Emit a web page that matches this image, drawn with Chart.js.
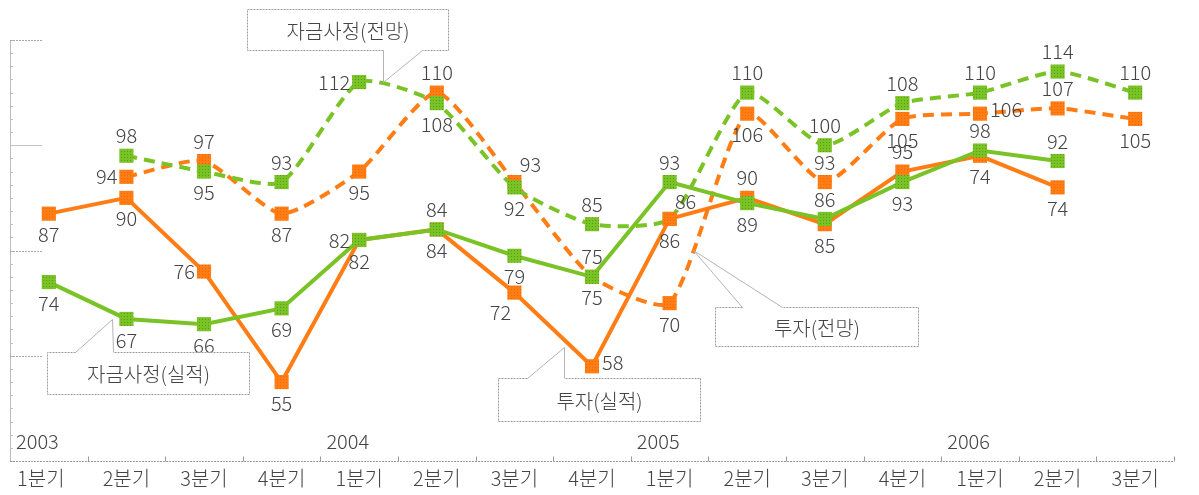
<!DOCTYPE html>
<html>
<head>
<meta charset="utf-8">
<script src="https://cdn.jsdelivr.net/npm/chart.js@4/dist/chart.umd.min.js"></script>
<style>
html, body { margin: 0; padding: 0; background: #fff; }
canvas { display: block; }
</style>
</head>
<body>
<canvas id="chart" width="1199" height="495"></canvas>
<script>
// 분기 / 연도
var quarters = ['1분기', '2분기', '3분기', '4분기', '1분기', '2분기', '3분기', '4분기',
                '1분기', '2분기', '3분기', '4분기', '1분기', '2분기', '3분기'];
var yearLabels = ['2003', '2004', '2005', '2006'];
var yearStart = [0, 4, 8, 12];   // 각 연도가 시작하는 분기 index

// 값
var investActual  = [87, 90, 76, 55, 82, 84, 72, 58, 86, 90, 85, 95, 98, 92, null];
var fundsActual   = [74, 67, 66, 69, 82, 84, 79, 75, 93, 89, 86, 93, 99, 97, null];
var investOutlook = [null, 94, 97, 87, 95, 110, 93, 75, 70, 106, 93, 105, 106, 107, 105];
var fundsOutlook  = [null, 98, 95, 93, 112, 108, 92, 85, 86, 110, 100, 108, 110, 114, 110];

// 그림에 찍힌 숫자 그대로
var investActualText  = ['87', '90', '76', '55', '82', '84', '72', '58', '86', '90', '85', '95', '74', '74', ''];
var fundsActualText   = ['74', '67', '66', '69', '82', '84', '79', '75', '93', '89', '86', '93', '98', '92', ''];
var investOutlookText = ['', '94', '97', '87', '95', '110', '93', '75', '70', '106', '93', '105', '106', '107', '105'];
var fundsOutlookText  = ['', '98', '95', '93', '112', '108', '92', '85', '86', '110', '100', '108', '110', '114', '110'];

// 라벨 위치 a=위 b=아래 l=왼쪽 r=오른쪽
var investActualSide  = ['b', 'b', 'l', 'b', 'b', 'b', 'bl', 'r', 'b', 'a', 'b', 'a', 'b', 'b', ''];
var fundsActualSide   = ['b', 'b', 'b', 'b', 'l', 'a', 'b', 'b', 'a', 'b', 'a', 'b', 'a', 'a', ''];
var investOutlookSide = ['', 'l', 'a', 'b', 'b', 'a', 'ar', 'a', 'b', 'b', 'a', 'b', 'r', 'a', 'b'];
var fundsOutlookSide  = ['', 'a', 'b', 'a', 'l', 'b', 'b', 'a', 'ar', 'a', 'a', 'a', 'a', 'a', 'a'];

var yMin = 40, yMax = 120;
var yMajor = [60, 80, 100, 120];

var orange = '#ff7d14';
var green = '#7ac326';
var labelFont = '300 20px "Noto Sans CJK KR", "Noto Sans", sans-serif';
var textColor = '#444444';

var canvas = document.getElementById('chart');
var ctx = canvas.getContext('2d');

// 점 무늬 채우기
function makePattern(base, dot) {
    var c = document.createElement('canvas');
    c.width = 3; c.height = 3;
    var g = c.getContext('2d');
    g.fillStyle = base;
    g.fillRect(0, 0, 3, 3);
    g.fillStyle = dot;
    g.fillRect(1, 1, 1, 1);
    return ctx.createPattern(c, 'repeat');
}
var orangeFill = makePattern(orange, '#f06a00');
var greenFill = makePattern(green, '#5c9e12');

// 축 그리기
var axisPlugin = {
    id: 'axisPlugin',
    beforeDatasetsDraw: function(chart) {
        var c = chart.ctx, xs = chart.scales.x, ys = chart.scales.y, area = chart.chartArea;
        c.save();
        c.lineWidth = 1;
        // 세로축
        c.strokeStyle = '#bdbdbd';
        c.beginPath();
        c.moveTo(area.left + 0.5, ys.getPixelForValue(yMax));
        c.lineTo(area.left + 0.5, area.bottom);
        c.stroke();
        // 작은 눈금
        for (var v = yMin; v <= yMax; v += 2.5) {
            var py = Math.round(ys.getPixelForValue(v)) + 0.5;
            c.beginPath();
            c.moveTo(area.left, py);
            c.lineTo(area.left + 3, py);
            c.stroke();
        }
        // 큰 눈금
        yMajor.forEach(function(v) {
            var py = Math.round(ys.getPixelForValue(v)) + 0.5;
            c.setLineDash(v === 100 ? [] : [2, 1]);
            c.strokeStyle = v === 100 ? '#c4c4c4' : '#a8a8a8';
            c.beginPath();
            c.moveTo(area.left, py);
            c.lineTo(area.left + 32, py);
            c.stroke();
        });
        // 가로축
        c.setLineDash([2, 1]);
        c.strokeStyle = '#9a9a9a';
        var by = area.bottom + 0.5;
        c.beginPath();
        c.moveTo(area.left, by);
        c.lineTo(area.right, by);
        c.stroke();
        c.setLineDash([]);
        var half = (xs.getPixelForValue(1) - xs.getPixelForValue(0)) / 2;
        for (var i = 0; i < quarters.length; i++) {
            var bx = Math.round(xs.getPixelForValue(i) + half) + 0.5;
            c.beginPath();
            c.moveTo(bx, by);
            c.lineTo(bx, by - 5);
            c.stroke();
        }
        // 분기 라벨
        c.font = labelFont;
        c.fillStyle = textColor;
        c.textAlign = 'center';
        c.textBaseline = 'middle';
        quarters.forEach(function(q, i) {
            var qx = xs.getPixelForValue(i);
            if (i === 0) qx -= 8;
            c.fillText(q, qx, area.bottom + 17);
        });
        // 연도
        c.textAlign = 'left';
        yearLabels.forEach(function(yl, i) {
            c.fillText(yl, xs.getPixelForValue(yearStart[i]) - half + 6, area.bottom - 20);
        });
        c.restore();
    }
};

// 데이터 라벨
var labelPlugin = {
    id: 'labelPlugin',
    afterDatasetsDraw: function(chart) {
        var c = chart.ctx;
        c.save();
        c.font = labelFont;
        c.fillStyle = textColor;
        c.textBaseline = 'middle';
        chart.data.datasets.forEach(function(ds, di) {
            var meta = chart.getDatasetMeta(di);
            ds.texts.forEach(function(t, i) {
                if (!t) return;
                var p = meta.data[i];
                var side = ds.sides[i];
                var x = p.x, y = p.y;
                c.textAlign = 'center';
                if (side === 'a') { y -= 20; }
                else if (side === 'b') { y += 21; }
                else if (side === 'l') { c.textAlign = 'right'; x -= 9; }
                else if (side === 'r') { c.textAlign = 'left'; x += 10; y -= 4; }
                else if (side === 'ar') { x += 16; y -= 18; }
                else if (side === 'bl') { x -= 14; y += 20; }
                c.fillText(t, x, y);
            });
        });
        c.restore();
    }
};

// 설명 상자
var callouts = [
    { text: '자금사정(실적)', box: [47, 352, 249, 394], edge: 'top', gap: [75, 113], tip: [112, 319] },
    { text: '자금사정(전망)', box: [247, 9, 448, 50], edge: 'bottom', gap: [383, 422], tip: [383, 82] },
    { text: '투자(실적)', box: [498, 378, 700, 421], edge: 'top', gap: [527, 564], tip: [564, 347] },
    { text: '투자(전망)', box: [715, 307, 918, 346], edge: 'top', gap: [742, 782], tip: [693, 250] }
];
var calloutPlugin = {
    id: 'calloutPlugin',
    afterDraw: function(chart) {
        var c = chart.ctx;
        c.save();
        callouts.forEach(function(co) {
            var l = co.box[0] + 0.5, t = co.box[1] + 0.5, r = co.box[2] + 0.5, b = co.box[3] + 0.5;
            c.fillStyle = '#fff';
            c.fillRect(l, t, r - l, b - t);
            c.lineWidth = 1;
            c.strokeStyle = '#9c9c9c';
            c.setLineDash([2, 1]);
            var ey = co.edge === 'top' ? t : b;
            var oy = co.edge === 'top' ? b : t;
            c.beginPath();
            c.moveTo(co.gap[0] + 0.5, ey);
            c.lineTo(l, ey);
            c.lineTo(l, oy);
            c.lineTo(r, oy);
            c.lineTo(r, ey);
            c.lineTo(co.gap[1] + 0.5, ey);
            c.stroke();
            c.setLineDash([]);
            c.strokeStyle = '#b4b4b4';
            c.beginPath();
            c.moveTo(co.gap[0] + 0.5, ey);
            c.lineTo(co.tip[0] + 0.5, co.tip[1] + 0.5);
            c.lineTo(co.gap[1] + 0.5, ey);
            c.stroke();
            c.font = labelFont;
            c.fillStyle = textColor;
            c.textAlign = 'center';
            c.textBaseline = 'middle';
            c.fillText(co.text, (l + r) / 2, (t + b) / 2 + 1);
        });
        c.restore();
    }
};

function series(label, data, texts, sides, color, fill, dashed, order) {
    return {
        label: label,
        data: data,
        texts: texts,
        sides: sides,
        borderColor: color,
        borderWidth: 4,
        borderDash: dashed ? [11, 7] : [],
        tension: dashed ? 0.2 : 0,
        pointStyle: 'rect',
        pointRadius: 10,
        pointBackgroundColor: fill,
        pointBorderWidth: 0,
        order: order
    };
}

new Chart(ctx, {
    type: 'line',
    data: {
        labels: quarters,
        datasets: [
            series('자금사정(실적)', fundsActual, fundsActualText, fundsActualSide, green, greenFill, false, 0),
            series('투자(실적)', investActual, investActualText, investActualSide, orange, orangeFill, false, 1),
            series('자금사정(전망)', fundsOutlook, fundsOutlookText, fundsOutlookSide, green, greenFill, true, 2),
            series('투자(전망)', investOutlook, investOutlookText, investOutlookSide, orange, orangeFill, true, 3)
        ]
    },
    options: {
        responsive: false,
        animation: false,
        layout: { padding: { left: 8, right: 25, top: 40, bottom: 34 } },
        plugins: {
            legend: { display: false },
            tooltip: { enabled: false }
        },
        scales: {
            x: { display: false, offset: true },
            y: { display: false, min: yMin, max: yMax }
        }
    },
    plugins: [axisPlugin, labelPlugin, calloutPlugin]
});
</script>
</body>
</html>
